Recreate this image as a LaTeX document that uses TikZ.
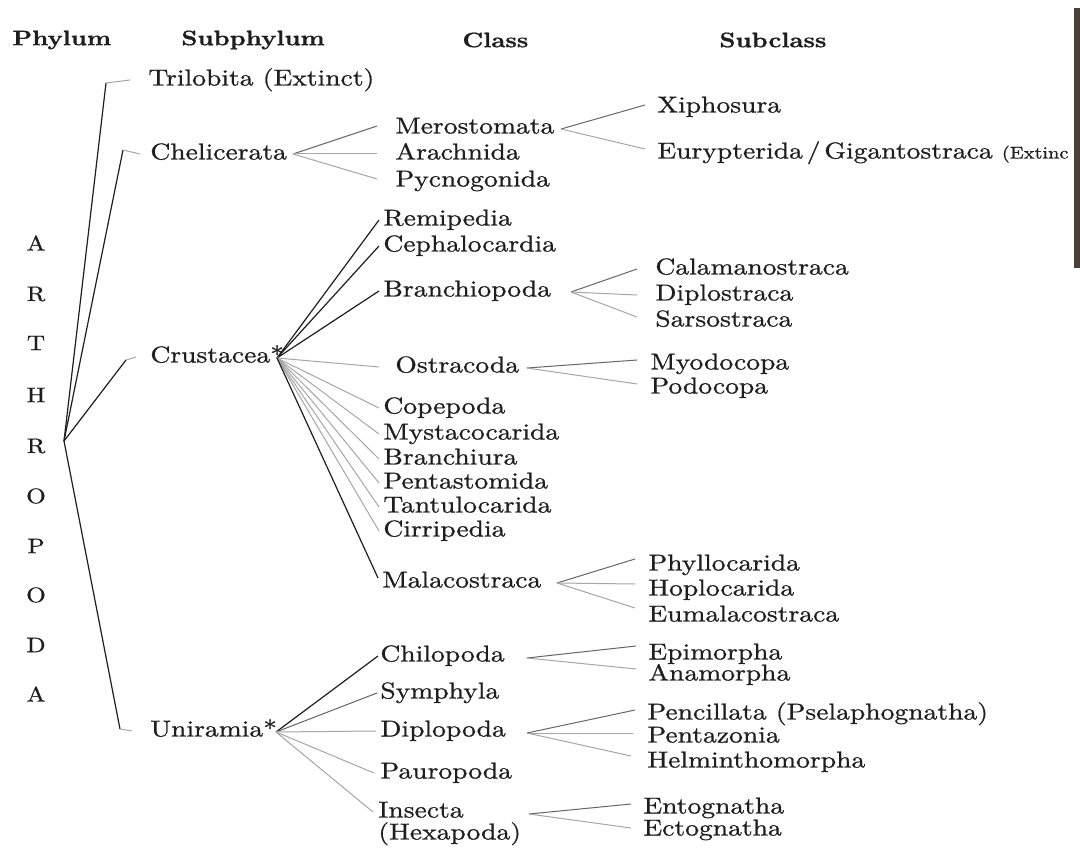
\documentclass[tikz,border=0pt]{standalone}
\usepackage{fontspec}
\setmainfont{lmroman10}[Extension=.otf,UprightFont=*-regular,BoldFont=*-bold,FakeStretch=1.2,FakeBold=0.8]
\definecolor{ink}{HTML}{1E1E1E}
\definecolor{edgebar}{HTML}{4A4038}
\begin{document}
\begin{tikzpicture}[x=0.5pt,y=-0.5pt,
  tx/.style={anchor=west,inner sep=0pt,text height=8pt,text depth=2.5pt,font=\fontsize{11.5}{13}\selectfont,text=ink},
  hd/.style={anchor=west,inner sep=0pt,font=\fontsize{10.5}{12}\selectfont\bfseries,text=ink},
  lt/.style={anchor=center,inner sep=0pt,font=\fontsize{10.5}{12}\selectfont,text=ink},
  blk/.style={draw=ink,line width=0.6pt},
  mid/.style={draw=black!60,line width=0.5pt},
  gry/.style={draw=black!35,line width=0.5pt}]
\useasboundingbox (0,0) rectangle (1080,849);
\fill[white] (0,0) rectangle (1080,849);
\fill[edgebar] (1074,8) rectangle (1080,268);
% headers
\node[hd] (hphylum) at (12,40) {Phylum};
\node[hd] (hsubphylum) at (181,40) {Subphylum};
\node[hd] (hclass) at (462,40) {Class};
\node[hd] (hsubclass) at (719,40) {Subclass};
% ARTHROPODA
\node[lt] (l1) at (36,243) {A};
\node[lt] (l2) at (36,294) {R};
\node[lt] (l3) at (36,343) {T};
\node[lt] (l4) at (36,395) {H};
\node[lt] (l5) at (36,446) {R};
\node[lt] (l6) at (36,496) {O};
\node[lt] (l7) at (36,546) {P};
\node[lt] (l8) at (36,595) {O};
\node[lt] (l9) at (36,645) {D};
\node[lt] (l10) at (36,694) {A};
% subphyla
\node[tx] (trilobita) at (148,80) {Trilobita (Extinct)};
\node[tx] (chelicerata) at (150,154) {Chelicerata};
\node[tx] (crustacea) at (150,357) {Crustacea*};
\node[tx] (uniramia) at (150,731) {Uniramia*};
% classes
\node[tx] (merostomata) at (395,128) {Merostomata};
\node[tx] (arachnida) at (395,154) {Arachnida};
\node[tx] (pycnogonida) at (395,181) {Pycnogonida};
\node[tx] (remipedia) at (383,220) {Remipedia};
\node[tx] (cephalocardia) at (383,246) {Cephalocardia};
\node[tx] (branchiopoda) at (383,291) {Branchiopoda};
\node[tx] (ostracoda) at (395,367) {Ostracoda};
\node[tx] (copepoda) at (383,408) {Copepoda};
\node[tx] (mystacocarida) at (383,434) {Mystacocarida};
\node[tx] (branchiura) at (383,459) {Branchiura};
\node[tx] (pentastomida) at (383,483) {Pentastomida};
\node[tx] (tantulocarida) at (383,507) {Tantulocarida};
\node[tx] (cirripedia) at (383,531) {Cirripedia};
\node[tx] (malacostraca) at (382,582) {Malacostraca};
\node[tx] (chilopoda) at (380,656) {Chilopoda};
\node[tx] (symphyla) at (380,693) {Symphyla};
\node[tx] (diplopoda) at (380,731) {Diplopoda};
\node[tx] (pauropoda) at (380,773) {Pauropoda};
\node[tx] (insecta) at (378,812) {Insecta};
\node[tx] (hexapoda) at (378,834) {(Hexapoda)};
% subclasses
\node[tx] (xiphosura) at (657,107) {Xiphosura};
\node[tx] (eurypterida) at (657,153) {Eurypterida\,/\,Gigantostraca {\fontsize{8.5}{10}\selectfont(Extinc}};
\node[tx] (calamanostraca) at (655,269) {Calamanostraca};
\node[tx] (diplostraca) at (655,295) {Diplostraca};
\node[tx] (sarsostraca) at (655,321) {Sarsostraca};
\node[tx] (myodocopa) at (650,364) {Myodocopa};
\node[tx] (podocopa) at (650,388) {Podocopa};
\node[tx] (phyllocarida) at (648,565) {Phyllocarida};
\node[tx] (hoplocarida) at (648,590) {Hoplocarida};
\node[tx] (eumalacostraca) at (648,616) {Eumalacostraca};
\node[tx] (epimorpha) at (648,654) {Epimorpha};
\node[tx] (anamorpha) at (648,675) {Anamorpha};
\node[tx] (pencillata) at (647,714) {Pencillata (Pselaphognatha)};
\node[tx] (pentazonia) at (647,737) {Pentazonia};
\node[tx] (helminthomorpha) at (647,762) {Helminthomorpha};
\node[tx] (entognatha) at (643,808) {Entognatha};
\node[tx] (ectognatha) at (643,830) {Ectognatha};
% phylum branches
\coordinate (root) at (64,441);
\coordinate (kT) at (106,83);
\coordinate (kC) at (123,150);
\coordinate (kCr) at (126,360);
\coordinate (kU) at (120,729);
\draw[blk] (root) -- (kT);
\draw[blk] (root) -- (kC);
\draw[blk] (root) -- (kCr);
\draw[blk] (root) -- (kU);
\draw[gry] (kT) -- ([xshift=-9pt]trilobita.west);
\draw[gry] (kC) -- ([xshift=-5pt]chelicerata.west);
\draw[gry] (kCr) -- ([xshift=-7pt]crustacea.west);
\draw[gry] (kU) -- ([xshift=-9pt]uniramia.west);
% Chelicerata
\coordinate (cheh) at (293,154);
\draw[mid] (cheh) -- ([xshift=-9pt,yshift=1pt]merostomata.west);
\draw[gry] (cheh) -- ([xshift=-9pt]arachnida.west);
\draw[gry] (cheh) -- ([xshift=-9pt,yshift=1pt]pycnogonida.west);
\coordinate (merh) at (561,129);
\draw[mid] (merh) -- ([xshift=-6pt,yshift=1pt]xiphosura.west);
\draw[gry] (merh) -- ([xshift=-6pt,yshift=2pt]eurypterida.west);
% Crustacea
\coordinate (crh) at (277,358);
\draw[blk] (crh) -- ([xshift=-2pt]remipedia.west);
\draw[blk] (crh) -- ([xshift=-2pt]cephalocardia.west);
\draw[blk] (crh) -- ([xshift=-2pt]branchiopoda.west);
\draw[gry] (crh) -- ([xshift=-8pt]ostracoda.west);
\draw[gry] (crh) -- ([xshift=-2pt]copepoda.west);
\draw[gry] (crh) -- ([xshift=-2pt]mystacocarida.west);
\draw[gry] (crh) -- ([xshift=-2pt]branchiura.west);
\draw[gry] (crh) -- ([xshift=-2pt]pentastomida.west);
\draw[gry] (crh) -- ([xshift=-2pt]tantulocarida.west);
\draw[gry] (crh) -- ([xshift=-2pt]cirripedia.west);
\draw[blk] (crh) -- ([xshift=-2pt,yshift=2pt]malacostraca.west);
\coordinate (brh) at (571,292);
\draw[mid] (brh) -- ([xshift=-9pt]calamanostraca.west);
\draw[gry] (brh) -- ([xshift=-9pt]diplostraca.west);
\draw[gry] (brh) -- ([xshift=-9pt,yshift=2pt]sarsostraca.west);
\coordinate (osh) at (527,368);
\draw[mid] (osh) -- ([xshift=-6.5pt,yshift=2pt]myodocopa.west);
\draw[gry] (osh) -- ([xshift=-6.5pt,yshift=2pt]podocopa.west);
\coordinate (mah) at (557,583);
\draw[mid] (mah) -- ([xshift=-6.5pt,yshift=3pt]phyllocarida.west);
\draw[gry] (mah) -- ([xshift=-6.5pt,yshift=3pt]hoplocarida.west);
\draw[gry] (mah) -- ([xshift=-6.5pt,yshift=4pt]eumalacostraca.west);
% Uniramia
\coordinate (unh) at (276,732);
\draw[blk] (unh) -- ([xshift=-1pt]chilopoda.west);
\draw[mid] (unh) -- ([xshift=-1.5pt]symphyla.west);
\draw[gry] (unh) -- ([xshift=-2pt]diplopoda.west);
\draw[gry] (unh) -- ([xshift=-3pt]pauropoda.west);
\draw[gry] (unh) -- ([xshift=-2.5pt]insecta.west);
\coordinate (chh) at (527,658);
\draw[mid] (chh) -- ([xshift=-6pt,yshift=4pt]epimorpha.west);
\draw[gry] (chh) -- ([xshift=-6pt,yshift=3pt]anamorpha.west);
\coordinate (dih) at (527,733);
\draw[mid] (dih) -- ([xshift=-6pt,yshift=2pt]pencillata.west);
\draw[gry] (dih) -- ([xshift=-7pt,yshift=2pt]pentazonia.west);
\draw[gry] (dih) -- ([xshift=-8pt,yshift=3pt]helminthomorpha.west);
\coordinate (inh) at (529,814);
\draw[mid] (inh) -- ([xshift=-6pt,yshift=2pt]entognatha.west);
\draw[gry] (inh) -- ([xshift=-6pt,yshift=1pt]ectognatha.west);
\end{tikzpicture}
\end{document}
